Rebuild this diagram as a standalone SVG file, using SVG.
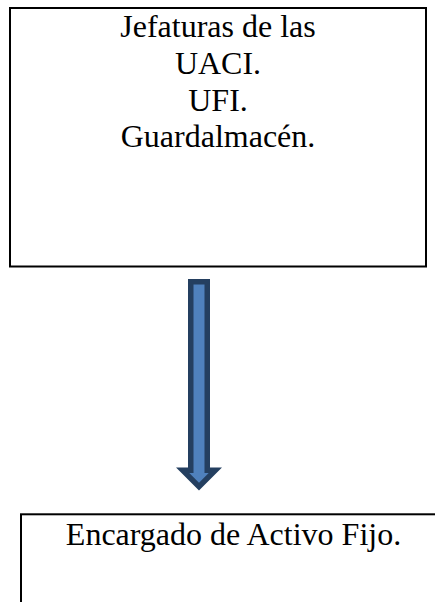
<svg xmlns="http://www.w3.org/2000/svg" width="435" height="602" viewBox="0 0 435 602">
<style>
.box{fill:#ffffff;stroke:#000000;stroke-width:2}
.lbl{font-family:"Liberation Serif","Times New Roman",serif;font-size:32px;fill:#000000;text-anchor:middle}
.arrow{fill:#4F81BD;stroke:#243F60;stroke-width:5.5;stroke-linejoin:miter}
</style>
<rect width="435" height="602" fill="#ffffff"/>
<g id="node-jefaturas">
<rect class="box" x="10" y="8" width="416" height="258.5"/>
<text class="lbl" x="218" y="37">Jefaturas de las</text>
<text class="lbl" x="218" y="73.8">UACI.</text>
<text class="lbl" x="218" y="110.6">UFI.</text>
<text class="lbl" x="218" y="147.4">Guardalmacén.</text>
</g>
<g id="connectors">
<polygon class="arrow" points="190.75,281.75 207.25,281.75 207.25,470.25 215.35,470.25 199,486.6 182.65,470.25 190.75,470.25"/>
</g>
<g id="node-encargado">
<rect class="box" x="21" y="514.3" width="430" height="100"/>
<text class="lbl" x="233.5" y="545">Encargado de Activo Fijo.</text>
</g>
</svg>
